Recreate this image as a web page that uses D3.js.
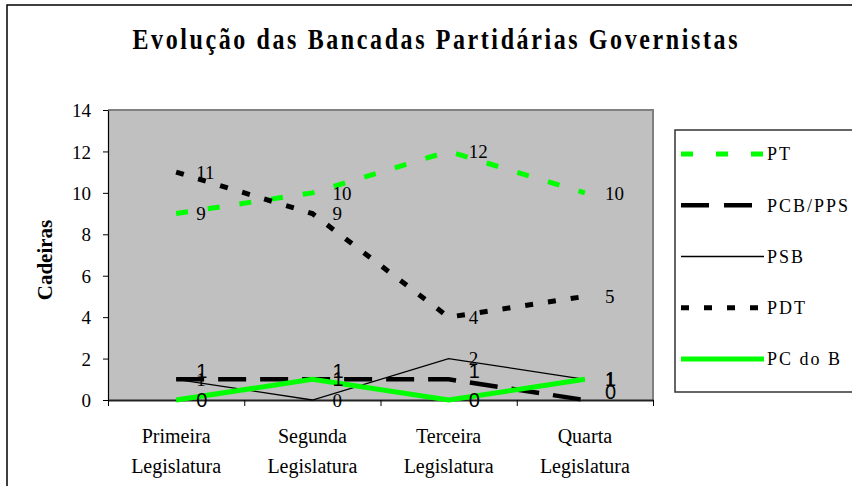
<!DOCTYPE html>
<html>
<head>
<meta charset="utf-8">
<script src="https://cdn.jsdelivr.net/npm/d3@7"></script>
<style>
  body { margin: 0; background: #fff; }
</style>
</head>
<body>
<script>
// === data ===
const categories = ["Primeira Legislatura", "Segunda Legislatura", "Terceira Legislatura", "Quarta Legislatura"]
const yTicks = [0, 2, 4, 6, 8, 10, 12, 14]
const seriesNames = ["PT", "PCB/PPS", "PSB", "PDT", "PC do B"]
const pt = [9, 10, 12, 10]
const pcb = [1, 1, 1, 0]
const psb = [1, 0, 2, 1]
const pdt = [11, 9, 4, 5]
const pcdob = [0, 1, 0, 1]

const SERIF = "'Liberation Serif', 'Times New Roman', serif"
const SANS = "'Liberation Sans', Arial, sans-serif"

const series = [
  { name: seriesNames[0], values: pt, color: "#00ff00", width: 5, dash: "12,20", legDash: "12,23", sans: false, lift: 0 },
  { name: seriesNames[1], values: pcb, color: "#000", width: 4.5, dash: "28,14", legDash: "28,15", sans: true, lift: 8 },
  { name: seriesNames[2], values: psb, color: "#000", width: 1.3, dash: null, legDash: null, sans: false, lift: 0 },
  { name: seriesNames[3], values: pdt, color: "#000", width: 5, dash: "8,15", legDash: "8,15", sans: false, lift: 0 },
  { name: seriesNames[4], values: pcdob, color: "#00ff00", width: 5, dash: null, legDash: null, sans: true, lift: 0 }
]

const W = 852, H = 486
const plot = { left: 108, right: 653, top: 110, bottom: 400 }

const svg = d3.select("body").append("svg")
  .attr("width", W)
  .attr("height", H)

// outer frame
svg.append("rect")
  .attr("x", 7).attr("y", 5)
  .attr("width", W).attr("height", H)
  .attr("fill", "none").attr("stroke", "#000").attr("stroke-width", 1.5)

// title (slightly stretched vertically like the original)
svg.append("text")
  .attr("transform", "translate(435,49) scale(1,1.2)")
  .attr("text-anchor", "middle")
  .style("font-family", SERIF)
  .style("font-size", "24px").style("font-weight", "bold")
  .attr("textLength", 605).attr("lengthAdjust", "spacing")
  .text("Evolução das Bancadas Partidárias Governistas")

const x = d3.scaleBand().domain(categories).range([plot.left, plot.right])
const xEdge = d3.scaleLinear().domain([0, categories.length]).range([plot.left, plot.right])
const y = d3.scaleLinear().domain([0, 14]).range([plot.bottom, plot.top])
const cx = d => x(d) + x.bandwidth() / 2

// plot background
svg.append("rect")
  .attr("x", plot.left).attr("y", plot.top)
  .attr("width", plot.right - plot.left).attr("height", plot.bottom - plot.top)
  .attr("fill", "#c0c0c0")
svg.append("path")
  .attr("d", `M${plot.left},${plot.top}H${plot.right}V${plot.bottom}`)
  .attr("fill", "none").attr("stroke", "#808080").attr("stroke-width", 2)

// Y axis
const yAx = svg.append("g")
  .attr("transform", `translate(${plot.left},0)`)
  .call(d3.axisLeft(y).tickValues(yTicks).tickSize(5).tickSizeOuter(0).tickPadding(12))
yAx.select(".domain").attr("stroke", "#000").attr("stroke-width", 1.2)
yAx.selectAll("text")
  .style("font-family", SERIF).style("font-size", "19px")
  .attr("dy", "0.35em")

// X axis (ticks between categories)
const xAx = svg.append("g")
  .attr("transform", `translate(0,${plot.bottom})`)
  .call(d3.axisBottom(xEdge).ticks(4).tickSize(6).tickSizeOuter(0).tickFormat(""))
xAx.select(".domain").attr("stroke", "#222").attr("stroke-width", 2)

// category labels, two lines
svg.append("g").selectAll("text")
  .data(categories)
  .join("text")
  .attr("text-anchor", "middle")
  .style("font-family", SERIF).style("font-size", "20px")
  .each(function (d) {
    const parts = d.split(" ")
    const t = d3.select(this)
    t.append("tspan").attr("x", cx(d)).attr("y", 443).text(parts[0])
    t.append("tspan").attr("x", cx(d)).attr("y", 473).text(parts[1])
  })

// y title
svg.append("text")
  .attr("transform", "translate(52,260) rotate(-90)")
  .attr("text-anchor", "middle")
  .style("font-family", SERIF).style("font-size", "21px").style("font-weight", "bold")
  .text("Cadeiras")

// lines
const line = d3.line()
  .x((d, i) => cx(categories[i]))
  .y(d => y(d))

svg.append("g").selectAll("path")
  .data(series)
  .join("path")
  .attr("d", d => line(d.values))
  .attr("fill", "none")
  .attr("stroke", d => d.color)
  .attr("stroke-width", d => d.width)
  .attr("stroke-dasharray", d => d.dash)

// data labels
series.forEach(s => {
  svg.append("g").selectAll("text")
    .data(s.values)
    .join("text")
    .attr("x", (d, i) => cx(categories[i]) + 20)
    .attr("y", d => y(d) - s.lift)
    .attr("dy", "0.35em")
    .style("font-family", s.sans ? SANS : SERIF)
    .style("font-size", s.sans ? "20px" : "19px")
    .text(d => d)
})

// legend
const lg = svg.append("g").attr("transform", "translate(675,130)")
lg.append("rect")
  .attr("width", 200).attr("height", 262)
  .attr("fill", "#fff").attr("stroke", "#333").attr("stroke-width", 1.5)

const ly = d3.scalePoint().domain(seriesNames).range([24, 229])
const items = lg.selectAll("g.item")
  .data(series)
  .join("g")
  .attr("class", "item")
  .attr("transform", d => `translate(0,${ly(d.name)})`)
items.append("line")
  .attr("x1", 6).attr("x2", 89)
  .attr("stroke", d => d.color)
  .attr("stroke-width", d => d.width)
  .attr("stroke-dasharray", d => d.legDash)
items.append("text")
  .attr("x", 92).attr("dy", "0.35em")
  .style("font-family", SERIF).style("font-size", "18px")
  .style("letter-spacing", "2px")
  .text(d => d.name)
</script>
</body>
</html>
